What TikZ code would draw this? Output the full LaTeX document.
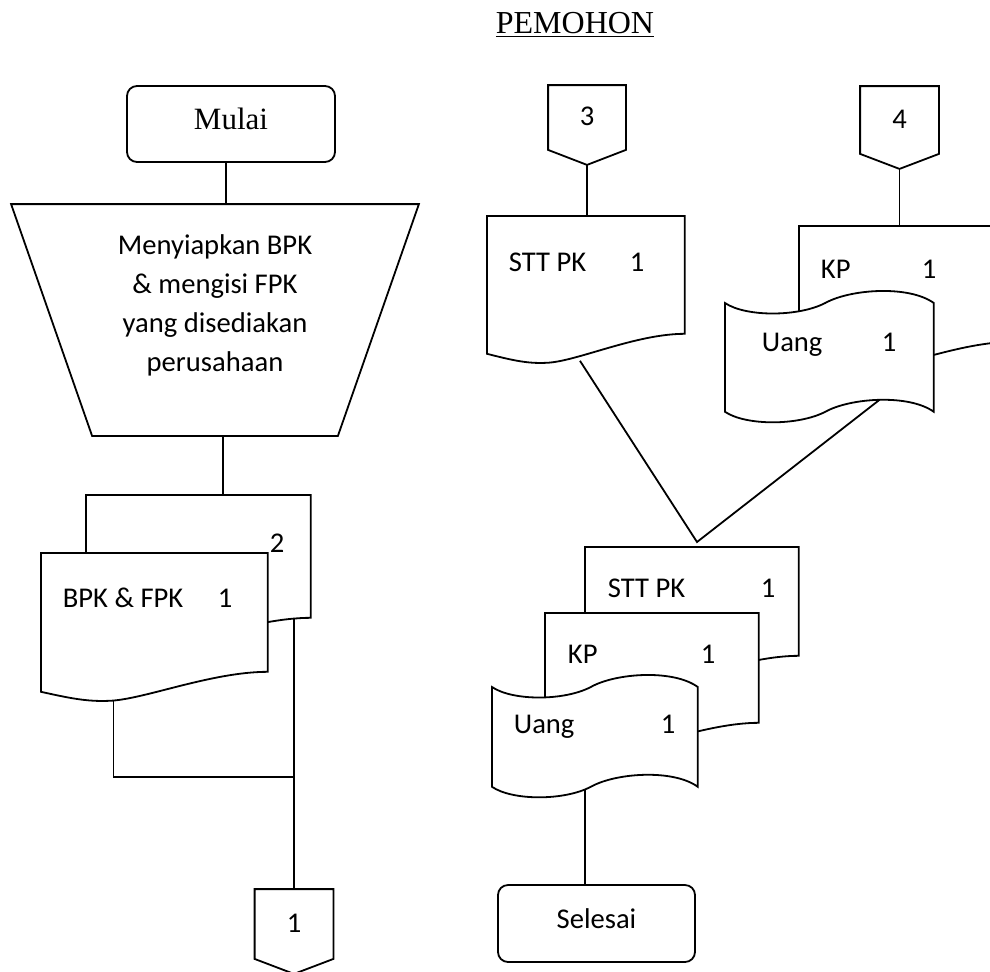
\documentclass[tikz,border=0pt]{standalone}
\usepackage{fontspec}
\setmainfont{Carlito}
\newfontfamily\timesfont{Liberation Serif}
\usetikzlibrary{calc,positioning}

\newcommand{\lblsize}{\fontsize{14.3}{19.5}\selectfont}

% document symbol: box with wavy bottom edge
\newcommand{\docshape}[1]{%
  \draw[fill=white] (#1.south east) -- (#1.north east) -- (#1.north west)
    -- ($(#1.south west)+(0,20)$)
    .. controls ($(#1.south west)!0.12!(#1.south east)+(0,26)$)
           and ($(#1.south west)!0.2!(#1.south east)+(0,30)$)
    .. ($(#1.south west)!0.3!(#1.south east)+(0,29)$)
    .. controls ($(#1.south west)!0.45!(#1.south east)+(0,28)$)
           and ($(#1.south west)!0.75!(#1.south east)$)
    .. (#1.south east) -- cycle;}

% punched tape symbol (money)
\newcommand{\tapeshape}[1]{%
  \draw[fill=white] (#1.north west)
    .. controls ($(#1.north west)!0.1!(#1.north east)+(0,14)$)
           and ($(#1.north west)!0.35!(#1.north east)+(0,14)$)
    .. ($(#1.north west)!0.48!(#1.north east)$)
    .. controls ($(#1.north west)!0.6!(#1.north east)+(0,-14)$)
           and ($(#1.north west)!0.88!(#1.north east)+(0,-18)$)
    .. (#1.north east) -- (#1.south east)
    .. controls ($(#1.south west)!0.88!(#1.south east)+(0,-18)$)
           and ($(#1.south west)!0.6!(#1.south east)+(0,-14)$)
    .. ($(#1.south west)!0.48!(#1.south east)$)
    .. controls ($(#1.south west)!0.35!(#1.south east)+(0,14)$)
           and ($(#1.south west)!0.1!(#1.south east)+(0,14)$)
    .. (#1.south west) -- cycle;}

% off-page connector
\newcommand{\offpage}[1]{%
  \coordinate (#1-tip) at ($(#1.south)+(0,15)$);
  \draw (#1.north west) -- (#1.south west) -- (#1-tip) -- (#1.south east)
    -- (#1.north east) -- cycle;}

\begin{document}
\begin{tikzpicture}[
  x=0.5pt, y=-0.5pt,
  line width=0.9pt,
  sz/.style 2 args={minimum width=#1*0.5pt, minimum height=#2*0.5pt},
  terminal/.style={rectangle, rounded corners=5pt, draw, inner sep=0,
                   text height=9pt, text depth=4pt},
  offbox/.style={rectangle, inner sep=0, font=\lblsize,
                 text height=9pt, text depth=1pt},
  docbox/.style={rectangle, inner sep=0, anchor=north west},
  lbl/.style={font=\lblsize, inner sep=0, anchor=base west},
  num/.style={font=\lblsize, inner sep=0, anchor=base}
]
\useasboundingbox (0,0) rectangle (990,971);

\node[font=\timesfont\fontsize{16}{19}\selectfont, anchor=base, inner sep=0]
  (title) at (575,33) {\underline{PEMOHON}};

% left column
\node[terminal, sz={208}{76}, font=\timesfont\fontsize{15.5}{19}\selectfont]
  (mulai) at (231,124) {Mulai};

\node[rectangle, inner sep=0, sz={406}{230}] (trap) at (215,320) {};
\draw (trap.north west) -- (trap.north east) -- ($(trap.south east)+(-81,0)$)
  -- ($(trap.south west)+(81,0)$) -- cycle;
\node[font=\lblsize, align=center, inner sep=0] (traptext) at (215,305)
  {Menyiapkan BPK\\\& mengisi FPK\\yang disediakan\\perusahaan};

\node[docbox, sz={223}{121}] (bpk2) at (86,495) {};
\docshape{bpk2}
\node[num] (bpkcopy) at (277,552) {2};
\node[docbox, sz={225}{117}] (bpk1) at (41,553) {};
\docshape{bpk1}
\node[lbl] (bpkname) at (62,607) {BPK \& FPK};
\node[num] (bpknum) at (225,607) {1};

\node[offbox, sz={77}{68}] (off1) at (294,924) {1};
\offpage{off1}

% right column, top
\node[offbox, sz={76}{63}] (off3) at (587,117.5) {3};
\offpage{off3}
\node[offbox, sz={77}{66}] (off4) at (899.5,120) {4};
\offpage{off4}

\node[docbox, sz={196}{116}] (stt1) at (487,216) {};
\docshape{stt1}
\node[lbl] (sttname1) at (508,271) {STT PK};
\node[num] (sttnum1) at (637,271) {1};

\node[docbox, sz={212}{114}] (kp1) at (799,226) {};
\docshape{kp1}
\node[lbl] (kpname1) at (820,278) {KP};
\node[num] (kpnum1) at (929,278) {1};
\node[docbox, sz={207}{107}] (uang1) at (725,303) {};
\tapeshape{uang1}
\node[lbl] (uangname1) at (761,351) {Uang};
\node[num] (uangnum1) at (889,351) {1};

% right column, bottom
\node[docbox, sz={212}{107}] (stt2) at (585,547) {};
\docshape{stt2}
\node[lbl] (sttname2) at (607,597) {STT PK};
\node[num] (sttnum2) at (768,597) {1};
\node[docbox, sz={212}{108}] (kp2) at (545,613) {};
\docshape{kp2}
\node[lbl] (kpname2) at (567,663) {KP};
\node[num] (kpnum2) at (708,663) {1};
\node[docbox, sz={204}{98}] (uang2) at (492,687) {};
\tapeshape{uang2}
\node[lbl] (uangname2) at (513,733) {Uang};
\node[num] (uangnum2) at (668,733) {1};

\node[terminal, sz={197}{77}, font=\lblsize] (selesai) at (596.5,923.5) {Selesai};

% connectors
\coordinate (mulaiout) at ([xshift=-2.5pt]mulai.south);
\draw (mulaiout) -- (mulaiout |- trap.north);
\coordinate (trapout) at ([xshift=4pt]trap.south);
\draw (trapout) -- (trapout |- bpk2.north);

\coordinate (bpkout) at ($(bpk1.south west)!0.32!(bpk1.south east)+(0,29)$);
\coordinate (merge) at ($(off1.north)+(0,-112)$);
\draw (bpkout) |- (merge);
\draw (off1.north |- bpk2.south) -- (off1.north);

\draw (off3-tip) -- (off3-tip |- stt1.north);
\draw (off4-tip) -- (off4-tip |- kp1.north);

\coordinate (sttout) at ($(stt1.south west)!0.47!(stt1.south east)+(0,27)$);
\coordinate (uangout) at ($(uang1.south west)!0.74!(uang1.south east)+(0,-12)$);
\coordinate (join) at ($(stt2.north west)+(112,-5)$);
\draw (sttout) -- (join) -- (uangout);

\coordinate (uang2out) at ($(uang2.south west)!0.45!(uang2.south east)+(0,3)$);
\draw (uang2out) -- (uang2out |- selesai.north);

\end{tikzpicture}
\end{document}
